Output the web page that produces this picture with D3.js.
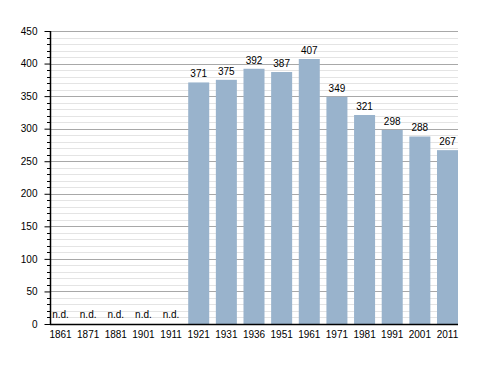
<!DOCTYPE html>
<html><head><meta charset="utf-8">
<script src="https://cdn.jsdelivr.net/npm/d3@7"></script>
<style>body{margin:0;background:#fff}svg{display:block}text{font-family:"Liberation Sans",Arial,sans-serif;font-size:10px;fill:#000}</style>
</head><body>
<script>
const categories = ["1861","1871","1881","1901","1911","1921","1931","1936","1951","1961","1971","1981","1991","2001","2011"];
const values = [null,null,null,null,null,371,375,392,387,407,349,321,298,288,267];
const yTicks = [0,50,100,150,200,250,300,350,400,450];

const W = 488, H = 373;
const mLeft = 50, mRight = 458, mTop = 31, mBottom = 324;
const svg = d3.select("body").append("svg").attr("width", W).attr("height", H);

const x = d3.scaleBand().domain(categories).range([mLeft, mRight]).paddingInner(0.24).paddingOuter(0);
const y = d3.scaleLinear().domain([0, 450]).range([mBottom, mTop]);

// minor grid
const minor = d3.range(0, 451, 10).filter(v => v % 50 !== 0);
svg.append("g").selectAll("line").data(minor).join("line")
  .attr("x1", mLeft + 1).attr("x2", mRight)
  .attr("y1", d => Math.round(y(d)) + 0.5).attr("y2", d => Math.round(y(d)) + 0.5)
  .attr("stroke", "#e4e4e4").attr("stroke-width", 1);
// major grid
svg.append("g").selectAll("line").data(yTicks.filter(d => d > 0)).join("line")
  .attr("x1", mLeft + 1).attr("x2", mRight)
  .attr("y1", d => Math.round(y(d)) + 0.5).attr("y2", d => Math.round(y(d)) + 0.5)
  .attr("stroke", "#a8a8a8").attr("stroke-width", 1);

// bars
svg.append("g").selectAll("rect").data(categories.map((c, i) => ({c, v: values[i]})).filter(d => d.v != null)).join("rect")
  .attr("x", d => x(d.c)).attr("width", x.bandwidth())
  .attr("y", d => y(d.v)).attr("height", d => mBottom - y(d.v))
  .attr("fill", "#99b3cc");

// value labels
svg.append("g").selectAll("text").data(categories.map((c, i) => ({c, v: values[i]}))).join("text")
  .attr("x", d => x(d.c) + x.bandwidth() / 2)
  .attr("y", d => d.v == null ? mBottom - 6 : y(d.v) - 5)
  .attr("text-anchor", "middle")
  .text(d => d.v == null ? "n.d." : d.v);

// y axis
const yAxis = svg.append("g").attr("transform", `translate(${mLeft + 0.5},0)`)
  .call(d3.axisLeft(y).tickValues(yTicks).tickSize(6).tickPadding(7).tickFormat(d3.format("d")));
yAxis.select(".domain").remove();
yAxis.selectAll(".tick line").attr("stroke", "#000");
yAxis.selectAll("text").style("font-size", "10px").style("font-family", "Liberation Sans, Arial, sans-serif").attr("fill", "#000");
svg.append("g").selectAll("line").data(minor).join("line")
  .attr("x1", mLeft - 3).attr("x2", mLeft)
  .attr("y1", d => Math.round(y(d)) + 0.5).attr("y2", d => Math.round(y(d)) + 0.5)
  .attr("stroke", "#000");
svg.append("line").attr("x1", mLeft + 0.5).attr("x2", mLeft + 0.5).attr("y1", mTop).attr("y2", mBottom + 1)
  .attr("stroke", "#000").attr("stroke-width", 1.5);

// x axis
const xAxis = svg.append("g").attr("transform", `translate(0,${mBottom})`)
  .call(d3.axisBottom(x).tickSize(0).tickPadding(7));
xAxis.select(".domain").remove();
xAxis.selectAll("text").style("font-size", "10px").style("font-family", "Liberation Sans, Arial, sans-serif").attr("fill", "#000");
svg.append("line").attr("x1", mLeft).attr("x2", mRight).attr("y1", mBottom + 0.5).attr("y2", mBottom + 0.5)
  .attr("stroke", "#000").attr("stroke-width", 1.5);
</script>
</body></html>
